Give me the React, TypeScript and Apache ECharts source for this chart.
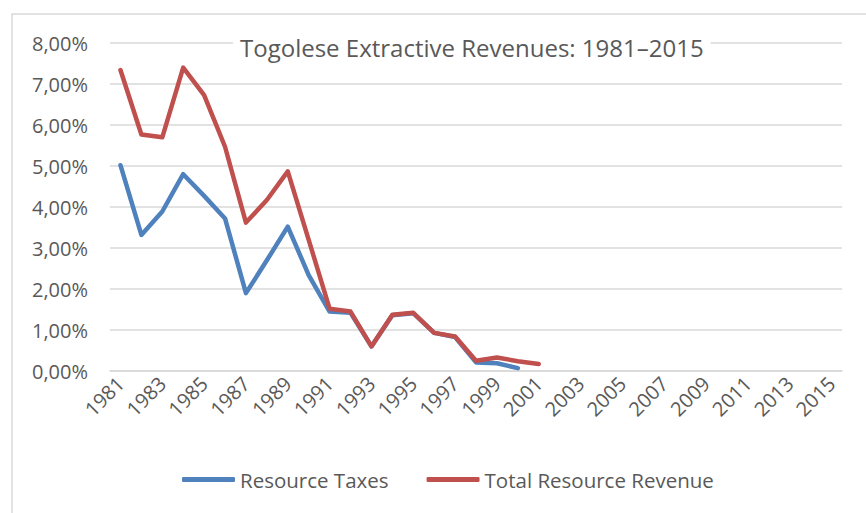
import React, { useEffect, useRef } from "react";
import * as echarts from "echarts";

const years: string[] = [];
for (let y = 1981; y <= 2015; y++) years.push(String(y));

const resourceTaxes: (number | null)[] = [
  5.02, 3.32, 3.89, 4.8, 4.27, 3.72, 1.9, 2.7, 3.52, 2.34,
  1.45, 1.42, 0.6, 1.36, 1.41, 0.93, 0.83, 0.21, 0.19, 0.07,
  null, null, null, null, null, null, null, null, null, null,
  null, null, null, null, null,
];

const totalResourceRevenue: (number | null)[] = [
  7.34, 5.77, 5.7, 7.4, 6.73, 5.47, 3.62, 4.17, 4.87, 3.2,
  1.52, 1.45, 0.6, 1.37, 1.42, 0.93, 0.84, 0.25, 0.33, 0.24,
  0.17, null, null, null, null, null, null, null, null, null,
  null, null, null, null, null,
];

const titleText = "Togolese Extractive Revenues: 1981\u20132015";
const FONT = "Open Sans";
const TEXT_COLOR = "#595959";

export default function App() {
  const ref = useRef<HTMLDivElement>(null);
  useEffect(() => {
    if (!ref.current) return;
    const chart = echarts.init(ref.current, undefined, { renderer: "svg" });
    chart.setOption({
      animation: false,
      backgroundColor: "#ffffff",
      textStyle: { fontFamily: FONT },
      graphic: [
        {
          type: "rect",
          shape: { x: 12, y: 14, width: 900, height: 600 },
          style: { fill: "none", stroke: "#D9D9D9", lineWidth: 1.5 },
          z: -1,
        },
      ],
      title: {
        text: titleText,
        left: 233,
        top: 33,
        padding: [2, 7, 2, 7],
        backgroundColor: "#ffffff",
        textStyle: {
          fontFamily: FONT,
          fontSize: 24,
          fontWeight: "normal",
          color: TEXT_COLOR,
        },
        z: 10,
      },
      legend: {
        bottom: 18,
        left: 177,
        itemGap: 38,
        itemWidth: 53,
        itemHeight: 5,
        icon: "roundRect",
        textStyle: { fontFamily: FONT, fontSize: 20.5, color: TEXT_COLOR },
        data: ["Resource Taxes", "Total Resource Revenue"],
      },
      grid: { left: 110, right: 24, top: 43, bottom: 142 },
      xAxis: {
        type: "category",
        data: years,
        boundaryGap: true,
        axisLine: { lineStyle: { color: "#D9D9D9", width: 1.5 } },
        axisTick: { show: false },
        axisLabel: {
          interval: 1,
          rotate: 45,
          margin: 9,
          fontFamily: FONT,
          fontSize: 20,
          color: TEXT_COLOR,
        },
      },
      yAxis: {
        type: "value",
        min: 0,
        max: 8,
        interval: 1,
        axisLine: { show: false },
        axisTick: { show: false },
        splitLine: { lineStyle: { color: "#D9D9D9", width: 1.5 } },
        axisLabel: {
          margin: 22,
          fontFamily: FONT,
          fontSize: 20,
          color: TEXT_COLOR,
          formatter: (v: number) => v.toFixed(2).replace(".", ",") + "%",
        },
      },
      series: [
        {
          name: "Resource Taxes",
          type: "line",
          data: resourceTaxes,
          showSymbol: false,
          symbol: "none",
          color: "#4F81BD",
          lineStyle: { color: "#4F81BD", width: 4.5, cap: "round", join: "round" },
        },
        {
          name: "Total Resource Revenue",
          type: "line",
          data: totalResourceRevenue,
          showSymbol: false,
          symbol: "none",
          color: "#C0504D",
          lineStyle: { color: "#C0504D", width: 4.5, cap: "round", join: "round" },
        },
      ],
    });
    return () => chart.dispose();
  }, []);
  return (
    <div
      ref={ref}
      style={{ position: "absolute", left: 0, top: 0, width: 866, height: 513 }}
    />
  );
}
